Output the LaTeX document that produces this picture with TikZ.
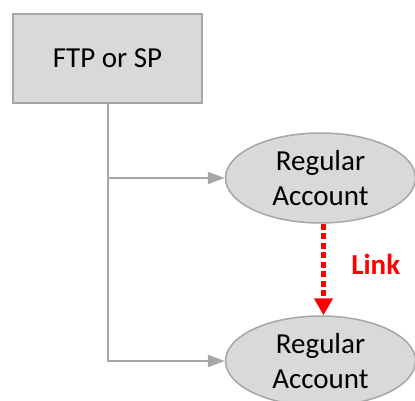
\documentclass[tikz,border=0pt]{standalone}
\usepackage{fontspec}
\setmainfont{Carlito}
\usetikzlibrary{arrows.meta,shapes.geometric}
\definecolor{boxgray}{HTML}{D9D9D9}
\definecolor{edgegray}{HTML}{A6A6A6}

\begin{document}
\begin{tikzpicture}[auto,x=1pt,y=-1pt,
		txt/.style={font=\fontsize{29}{35}\selectfont},
		acct/.style={txt,ellipse,draw=edgegray,fill=boxgray,line width=1.5pt,inner sep=0pt,minimum width=190pt,minimum height=90pt,align=center},
		feed/.style={draw=edgegray,line width=2pt,-{Triangle[length=17pt,width=12pt]}}]
	\clip (0,0) rectangle (415,401);
	\node[txt,draw=edgegray,fill=boxgray,line width=2pt,minimum width=189pt,minimum height=89pt] (ftp) at (107.5,58.5) {FTP or SP};
	\node[acct] (reg) at (320.5,178) {Regular\\Account};
	\node[acct] (reg') at (320.5,361) {Regular\\Account};
	\draw[feed] (ftp.south) |- (reg.west);
	\draw[feed] (ftp.south) |- (reg'.west);
	\draw[red,line width=5pt,dash pattern=on 6pt off 3.5pt,-{Triangle[length=17pt,width=18pt]},transform canvas={xshift=3pt}] (reg) to node[font=\fontsize{29}{35}\selectfont\bfseries,xshift=22pt,yshift=5pt]{Link}(reg');
\end{tikzpicture}
\end{document}
